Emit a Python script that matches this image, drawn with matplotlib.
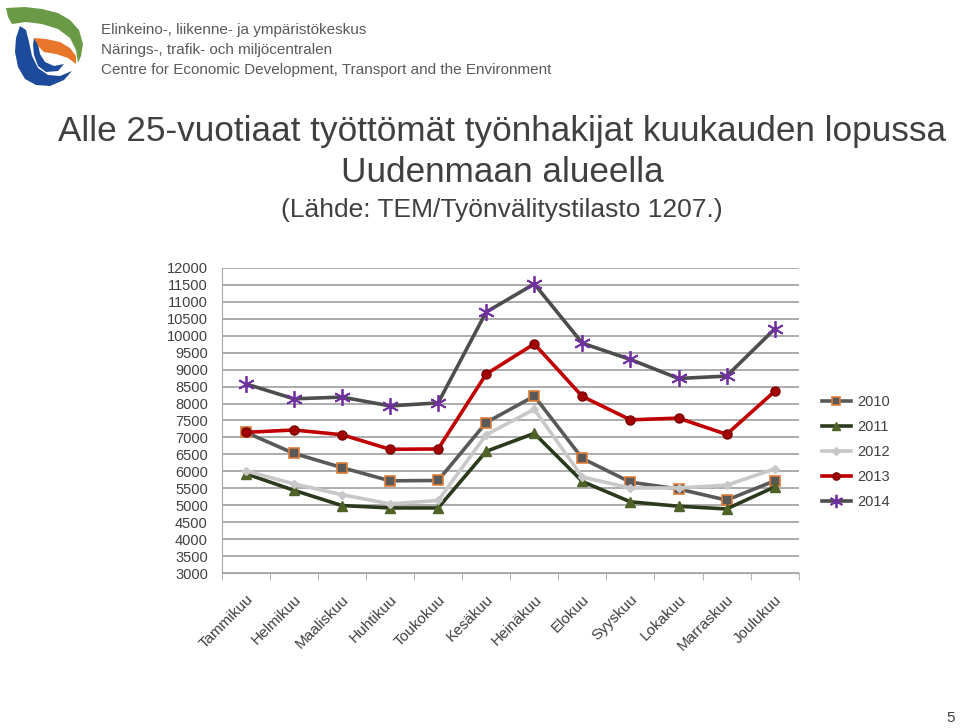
import numpy as np
import matplotlib
matplotlib.use("Agg")
import matplotlib.pyplot as plt
from matplotlib.patches import Polygon

plt.rcParams["font.family"] = ["Liberation Sans", "DejaVu Sans"]

months = ["Tammikuu", "Helmikuu", "Maaliskuu", "Huhtikuu", "Toukokuu", "Kesäkuu",
          "Heinäkuu", "Elokuu", "Syyskuu", "Lokakuu", "Marraskuu", "Joulukuu"]
years = ["2010", "2011", "2012", "2013", "2014"]
v2010 = [7150, 6530, 6110, 5720, 5730, 7440, 8220, 6380, 5680, 5480, 5150, 5720]
v2011 = [5930, 5440, 4990, 4920, 4920, 6590, 7120, 5700, 5100, 4970, 4890, 5540]
v2012 = [6010, 5630, 5310, 5040, 5140, 7080, 7830, 5830, 5510, 5510, 5590, 6070]
v2013 = [7150, 7220, 7080, 6650, 6660, 8870, 9760, 8210, 7520, 7570, 7090, 8360]
v2014 = [8580, 8140, 8190, 7930, 8020, 10700, 11530, 9780, 9300, 8740, 8810, 10200]
yticks = list(range(3000, 12001, 500))

fig = plt.figure(figsize=(9.6, 7.28), dpi=100)

# logo + header text, drawn in pixel coords
lg = fig.add_axes([0, 0, 1, 1], zorder=0)
lg.set_xlim(0, 960)
lg.set_ylim(728, 0)
lg.axis("off")
green = [(6, 8), (25, 7), (42, 9), (58, 13), (70, 20), (79, 30), (83, 44), (81, 56),
         (78, 63), (76, 50), (70, 38), (58, 29), (42, 24), (26, 22), (12, 24), (8, 17)]
blue_out = [(20, 26), (26, 30), (29, 42), (32, 56), (38, 68), (48, 75), (60, 76),
            (72, 71), (64, 80), (50, 86), (36, 85), (25, 79), (18, 67), (15, 52), (16, 38)]
blue_in = [(34, 38), (38, 44), (40, 54), (45, 62), (54, 66), (64, 64), (58, 71),
           (46, 72), (38, 66), (34, 55), (33, 45)]
orange = [(34, 38), (46, 39), (60, 42), (70, 48), (76, 56), (76, 64), (68, 58),
          (56, 54), (44, 52), (39, 47)]
lg.add_patch(Polygon(green, closed=True, color="#6a9a45", lw=0))
lg.add_patch(Polygon(blue_out, closed=True, color="#1d4b9b", lw=0))
lg.add_patch(Polygon(blue_in, closed=True, color="#1d4b9b", lw=0))
lg.add_patch(Polygon(orange, closed=True, color="#e8762a", lw=0))
lg.text(101, 30, "Elinkeino-, liikenne- ja ympäristökeskus", fontsize=11,
        color="#5a5a5a", va="center")
lg.text(101, 50, "Närings-, trafik- och miljöcentralen", fontsize=11,
        color="#5a5a5a", va="center")
lg.text(101, 70, "Centre for Economic Development, Transport and the Environment",
        fontsize=11, color="#5a5a5a", va="center")
lg.text(502, 131, "Alle 25-vuotiaat työttömät työnhakijat kuukauden lopussa",
        fontsize=25.3, color="#404040", ha="center", va="center")
lg.text(502, 173, "Uudenmaan alueella", fontsize=25.3, color="#404040",
        ha="center", va="center")
lg.text(502, 210, "(Lähde: TEM/Työnvälitystilasto 1207.)", fontsize=19,
        color="#404040", ha="center", va="center")
lg.text(955, 718, "5", fontsize=11, color="#404040", ha="right", va="center")

ax = fig.add_axes([0.231, 0.2129, 0.601, 0.419], zorder=1)
ax.patch.set_alpha(0)
x = np.arange(len(months))

styles = [
    dict(color="#595959", marker="s", mfc="#595959", mec="#e07b39", ms=6.5, mew=1.2),
    dict(color="#2b3a1c", marker="^", mfc="#4f6228", mec="#4f6228", ms=6.5),
    dict(color="#c8c8c8", marker="D", mfc="#c8c8c8", mec="#c8c8c8", ms=4.5),
    dict(color="#c00000", marker="o", mfc="#a50000", mec="#7a0000", ms=6.5),
    dict(color="#4d4d4d", marker=(6, 2, 0), mfc="#7030a0", mec="#7030a0", ms=12, mew=1.3),
]
for name, vals, st in zip(years, [v2010, v2011, v2012, v2013, v2014], styles):
    ax.plot(x, vals, lw=2.6, label=name, **st)

ax.set_xlim(-0.5, 11.5)
ax.set_ylim(3000, 12000)
ax.set_yticks(yticks)
ax.set_yticklabels([str(t) for t in yticks], fontsize=10.5, color="#404040")
ax.yaxis.grid(True, color="#a6a6a6", lw=1.3)
ax.set_axisbelow(True)
ax.tick_params(axis="y", length=0, pad=10)
ax.set_xticks(x)
ax.set_xticklabels(months, rotation=45, ha="right", rotation_mode="anchor",
                   fontsize=11, color="#404040")
ax.set_xticks(np.arange(-0.5, 12, 1), minor=True)
ax.tick_params(axis="x", which="major", length=0, pad=14)
ax.tick_params(axis="x", which="minor", length=5, color="#a6a6a6")
for s in ["top", "right"]:
    ax.spines[s].set_visible(False)
ax.spines["left"].set_color("#a6a6a6")
ax.spines["bottom"].set_color("#a6a6a6")

ax.legend(loc="center left", bbox_to_anchor=(1.03, 0.397), frameon=False,
          fontsize=10.5, labelcolor="#404040", handlelength=2.0, handletextpad=0.4,
          labelspacing=0.75, borderaxespad=0.0, markerscale=0.8)

fig.savefig("out.png", dpi=100)
